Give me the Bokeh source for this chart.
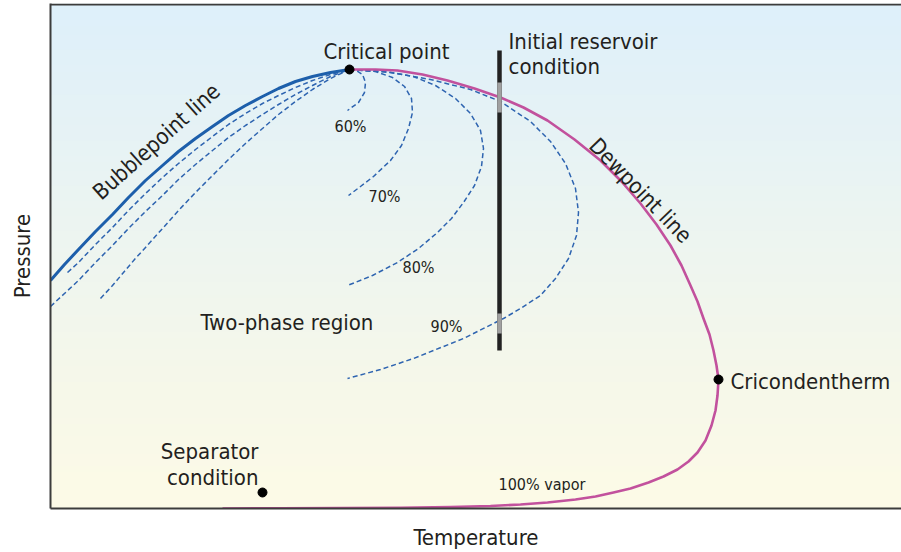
import numpy as np
from bokeh.plotting import figure
from bokeh.models import Range1d, Span, FixedTicker
from bokeh.core.properties import value
from bokeh.embed import file_html
from bokeh.resources import INLINE

# ---- data (arbitrary temperature / pressure units) ----
bubble_T = [0, 14, 28, 45, 62, 78, 95, 112, 128, 145, 162, 178, 195, 212, 228, 245, 262, 280, 299]
bubble_P = [228, 244, 259, 277, 294, 311, 328, 343, 357, 370, 382, 393, 403, 412, 420, 427, 432, 436, 439]

left1_T = [17, 28, 45, 62, 78, 95, 112, 128, 145, 162, 178, 195, 212, 228, 245, 262, 280, 299]
left1_P = [236, 246, 264, 281, 298, 315, 331, 345, 359, 372, 384, 395, 405, 413, 421, 428, 434, 439]
left2_T = [0, 14, 28, 45, 62, 78, 95, 112, 128, 145, 162, 178, 195, 212, 228, 245, 262, 280, 299]
left2_P = [202, 215, 228, 246, 263, 280, 297, 313, 329, 344, 358, 371, 383, 394, 404, 414, 423, 432, 439]
left3_T = [50, 62, 73, 84, 95, 112, 128, 145, 162, 178, 195, 212, 228, 245, 262, 280, 299]
left3_P = [210, 223, 236, 249, 261, 280, 298, 316, 333, 349, 365, 380, 394, 407, 419, 430, 439]

q60_T = [299, 306, 312, 315, 314, 308, 297]
q60_P = [439, 438, 434, 426, 416, 406, 398]
q70_T = [299, 325, 342, 354, 361, 362, 358, 351, 340, 323, 310, 298]
q70_P = [439, 437, 431, 422, 410, 396, 380, 363, 348, 332, 322, 313]
q80_T = [299, 335, 363, 385, 405, 420, 430, 433, 431, 424, 413, 401, 387, 368, 347, 322, 297]
q80_P = [439, 437, 432, 423, 410, 395, 378, 360, 342, 323, 306, 290, 276, 260, 246, 233, 223]
q90_T = [299, 340, 380, 420, 450, 480, 500, 515, 525, 528, 526, 518, 505, 490, 470, 453, 413, 363, 330, 297]
q90_P = [439, 436, 429, 419, 407, 387, 367, 345, 320, 296, 273, 250, 230, 213, 200, 190, 170, 150, 139, 130]

dew_T = [299, 325, 347, 372, 397, 424, 450, 473, 497, 524, 550, 571, 590, 606, 620, 631, 640, 647,
         653, 659, 663, 666, 668, 667, 665, 661, 655, 647, 638, 627, 613, 598, 580, 563, 545, 525,
         497, 470, 440, 400, 350, 290, 230, 172]
dew_P = [439, 439, 438, 434, 428, 420, 411, 401, 388, 369, 348, 327, 305, 284, 263, 243, 223, 207,
         190, 174, 158, 143, 129, 113, 98, 83, 68, 56, 47, 39, 32, 26, 20, 16, 12, 9,
         6, 4, 2.5, 1.5, 0.8, 0.4, 0.2, 0]

reservoir_T = 449
reservoir_P = [158, 458]
crossing_P = [[396, 426], [175, 195]]

points_T = [299, 668, 212]       # critical point, cricondentherm, separator
points_P = [439, 129, 16]

pct_labels = ["60%", "70%", "80%", "90%"]
pct_T = [284, 318, 352, 380]
pct_P = [382, 312, 241, 182]

# ---- styling ----
FONT_S = "'DejaVu Sans Condensed', 'DejaVu Sans', sans-serif"
FONT = value(FONT_S)
TXT = "#231f20"
BLUE = "#1d5fab"
DASH = "#2e64b0"
MAG = "#c2519d"
AX = "#3c3c3c"

p = figure(width=901, height=552, x_range=Range1d(0, 851), y_range=Range1d(0, 505),
           output_backend="svg", toolbar_location=None,
           min_border_left=50, min_border_right=0, min_border_top=3, min_border_bottom=44)
p.background_fill_color = "white"
p.border_fill_color = "white"
p.outline_line_color = None
p.grid.visible = False

# gradient background
stops_t = np.array([0.0, 0.45, 0.75, 1.0])          # from top to bottom
stops_c = np.array([[222, 240, 251], [237, 245, 241], [246, 248, 234], [253, 251, 231]])
n = 505
t = np.linspace(1.0, 0.0, n)  # row 0 is the bottom
img = np.empty((n, 1), dtype=np.uint32)
view = img.view(dtype=np.uint8).reshape((n, 1, 4))
for k in range(3):
    view[:, 0, k] = np.interp(t, stops_t, stops_c[:, k]).astype(np.uint8)
view[:, 0, 3] = 255
p.image_rgba(image=[img], x=0, y=0, dw=851, dh=505)

for ax in (p.xaxis, p.yaxis):
    ax.ticker = FixedTicker(ticks=[])
    ax.major_label_text_font_size = "0px"
    ax.major_tick_line_color = None
    ax.minor_tick_line_color = None
    ax.major_tick_out = 0
    ax.major_tick_in = 0
    ax.major_label_standoff = 0
    ax.axis_line_color = AX
    ax.axis_line_width = 2
    ax.axis_label_text_font = FONT_S
    ax.axis_label_text_font_size = "22px"
    ax.axis_label_text_font_style = "normal"
    ax.axis_label_text_color = TXT
p.xaxis.axis_label = "Temperature"
p.yaxis.axis_label = "Pressure"
p.xaxis.axis_label_standoff = 16
p.yaxis.axis_label_standoff = 16
p.add_layout(Span(location=504, dimension="width", line_color=AX, line_width=2))

# quality lines
for xs, ys in [(left1_T, left1_P), (left2_T, left2_P), (left3_T, left3_P),
               (q60_T, q60_P), (q70_T, q70_P), (q80_T, q80_P), (q90_T, q90_P)]:
    p.line(xs, ys, line_color=DASH, line_width=1.5, line_dash="5 3", line_join="round")

p.line(bubble_T, bubble_P, line_color=BLUE, line_width=3, line_join="round")
p.line(dew_T, dew_P, line_color=MAG, line_width=2.6, line_join="round")

# initial reservoir condition
p.segment(x0=reservoir_T, y0=reservoir_P[0], x1=reservoir_T, y1=reservoir_P[1],
          line_color="#222222", line_width=4.5)
for lo, hi in crossing_P:
    p.segment(x0=reservoir_T, y0=lo, x1=reservoir_T, y1=hi, line_color="#a0a0a0", line_width=4.5)

p.scatter(points_T, points_P, size=9, color="black")

def txt(x, y, s, size="22px", align="left", baseline="alphabetic", angle=0.0):
    p.text(x=[x], y=[y], text=[s], text_font=FONT, text_font_size=value(size),
           text_color=TXT, text_align=align, text_baseline=baseline, angle=angle)

txt(273, 457, "Critical point")
txt(458, 467, "Initial reservoir")
txt(458, 442, "condition")
txt(150, 186, "Two-phase region")
txt(208, 57, "Separator", align="right")
txt(208, 31, "condition", align="right")
txt(680, 127, "Cricondentherm")
txt(448, 24, "100% vapor", size="16px")
for s, x, y in zip(pct_labels, pct_T, pct_P):
    txt(x, y, s, size="16px")
txt(106, 367, "Bubblepoint line", align="center", angle=0.73)
txt(590, 318, "Dewpoint line", align="center", angle=-0.80)

open("out.html", "w").write(file_html(p, INLINE))
